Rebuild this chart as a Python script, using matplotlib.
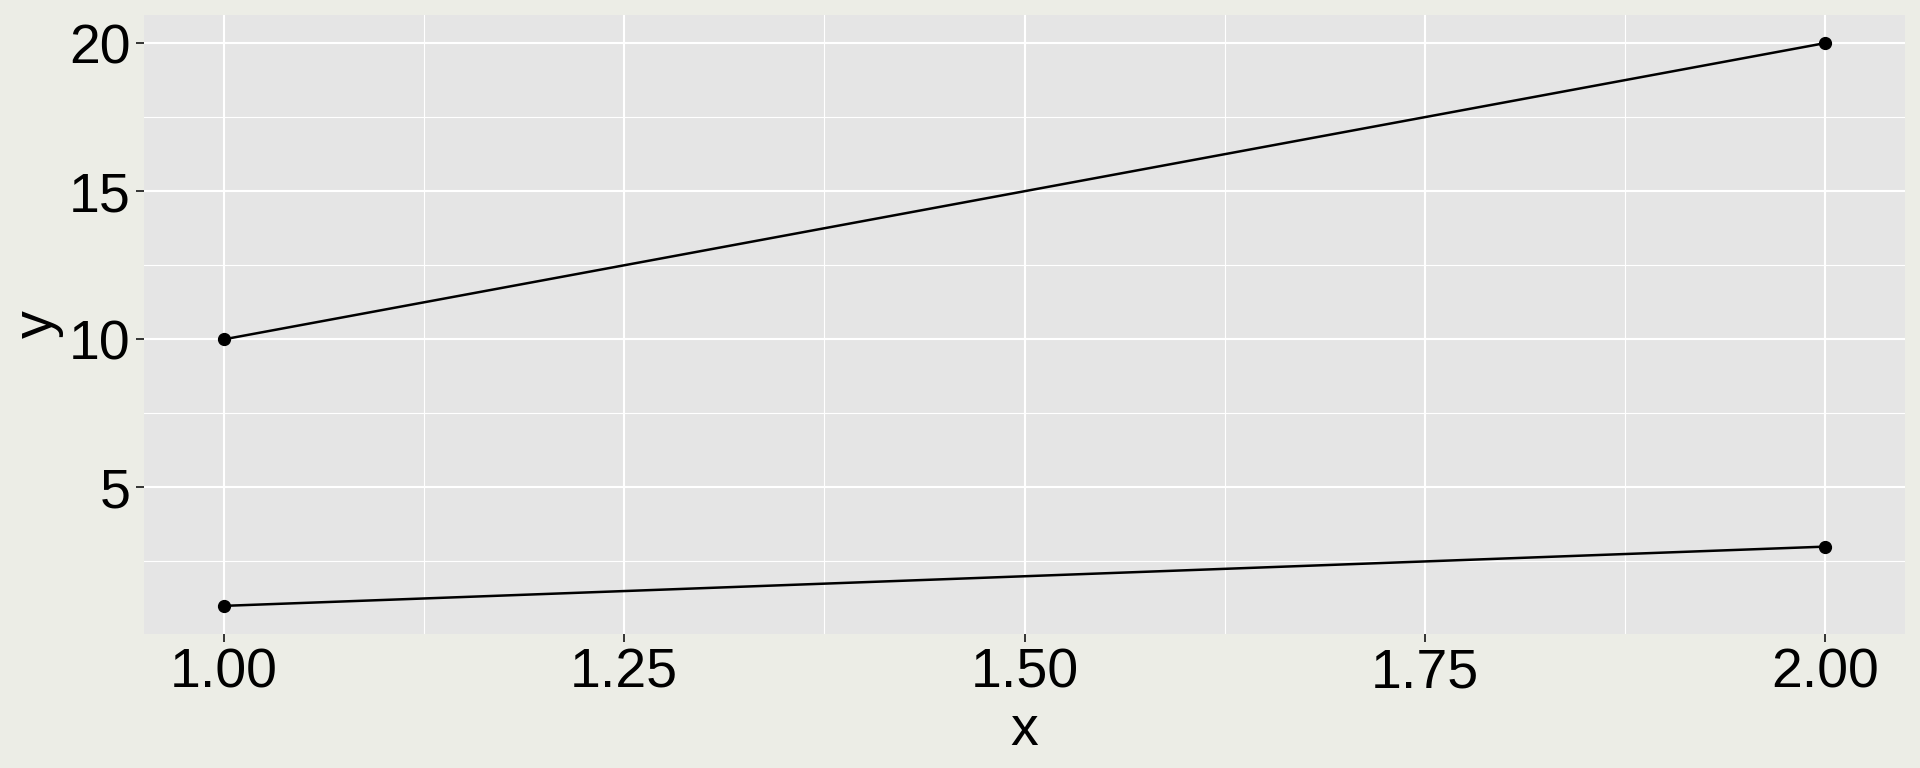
import numpy as np
import matplotlib.pyplot as plt

# two series, each a line with points at both ends
x_vals = [1, 2]
series_a = [10, 20]
series_b = [1, 3]

x_ticks = [1.00, 1.25, 1.50, 1.75, 2.00]
y_ticks = [5, 10, 15, 20]

plt.rcParams['font.family'] = ['Liberation Sans', 'DejaVu Sans']

fig = plt.figure(figsize=(19.2, 7.68), dpi=100, facecolor='#ECEDE6')
ax = fig.add_axes([144 / 1920, (768 - 634) / 768, 1761 / 1920, 619 / 768])
ax.set_facecolor('#E5E5E5')

for ys in (series_a, series_b):
    ax.plot(x_vals, ys, color='black', lw=1.8, zorder=3)
    ax.plot(x_vals, ys, 'o', color='black', ms=8.5, zorder=4)

# ggplot style expansion of 5 %
xr = max(x_vals) - min(x_vals)
ax.set_xlim(min(x_vals) - 0.05 * xr, max(x_vals) + 0.05 * xr)
all_y = series_a + series_b
yr = max(all_y) - min(all_y)
ax.set_ylim(min(all_y) - 0.05 * yr, max(all_y) + 0.05 * yr)

ax.set_xticks(x_ticks)
ax.set_xticklabels([f"{v:.2f}" for v in x_ticks])
ax.set_yticks(y_ticks)
ax.set_xticks([1.125, 1.375, 1.625, 1.875], minor=True)
ax.set_yticks([2.5, 7.5, 12.5, 17.5], minor=True)

ax.grid(which='major', color='white', lw=1.5)
ax.grid(which='minor', color='white', lw=0.8)
ax.set_axisbelow(True)
for s in ax.spines.values():
    s.set_visible(False)

ax.tick_params(which='major', length=5.5, width=1.4, color='#333333',
               labelsize=40, labelcolor='black', pad=4)
ax.tick_params(which='minor', length=0)

ax.set_xlabel('x', fontsize=40, labelpad=4)
ax.set_ylabel('y', fontsize=40, labelpad=4)

fig.savefig('out.png', dpi=100, facecolor=fig.get_facecolor())
